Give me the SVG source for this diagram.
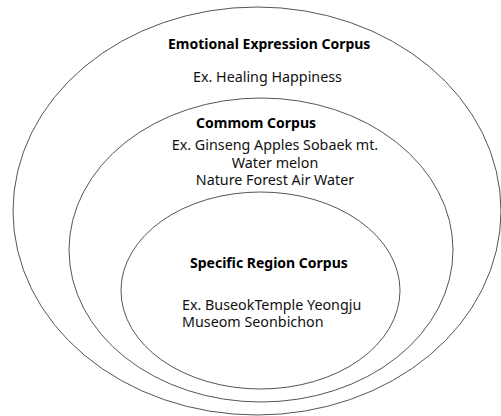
<svg xmlns="http://www.w3.org/2000/svg" width="501" height="416" viewBox="0 0 501 416">
<style>
.ring{fill:none;stroke:#555;stroke-width:1}
.t{font-family:"Noto Sans","Open Sans",sans-serif;font-size:14.3px;fill:#111}
.b{font-weight:bold;fill:#000;font-size:14px}
</style>
<rect width="501" height="416" fill="#fff"/>
<g id="emotional">
<ellipse class="ring" cx="257" cy="211" rx="244" ry="204"/>
<text class="t b" x="168" y="49">Emotional Expression Corpus</text>
<text class="t" x="193" y="82">Ex. Healing Happiness</text>
</g>
<g id="common">
<ellipse class="ring" cx="261" cy="250" rx="192" ry="152"/>
<text class="t b" x="196" y="128">Commom Corpus</text>
<text class="t" x="275" y="150" text-anchor="middle">Ex. Ginseng Apples Sobaek mt.</text>
<text class="t" x="275" y="168" text-anchor="middle">Water melon</text>
<text class="t" x="275" y="185" text-anchor="middle">Nature Forest Air Water</text>
</g>
<g id="specific">
<ellipse class="ring" cx="260.5" cy="290.5" rx="139.5" ry="98.5"/>
<text class="t b" x="190" y="268">Specific Region Corpus</text>
<text class="t" x="182" y="310">Ex. BuseokTemple Yeongju</text>
<text class="t" x="182" y="327">Museom Seonbichon</text>
</g>
<g id="connectors"/>
</svg>
